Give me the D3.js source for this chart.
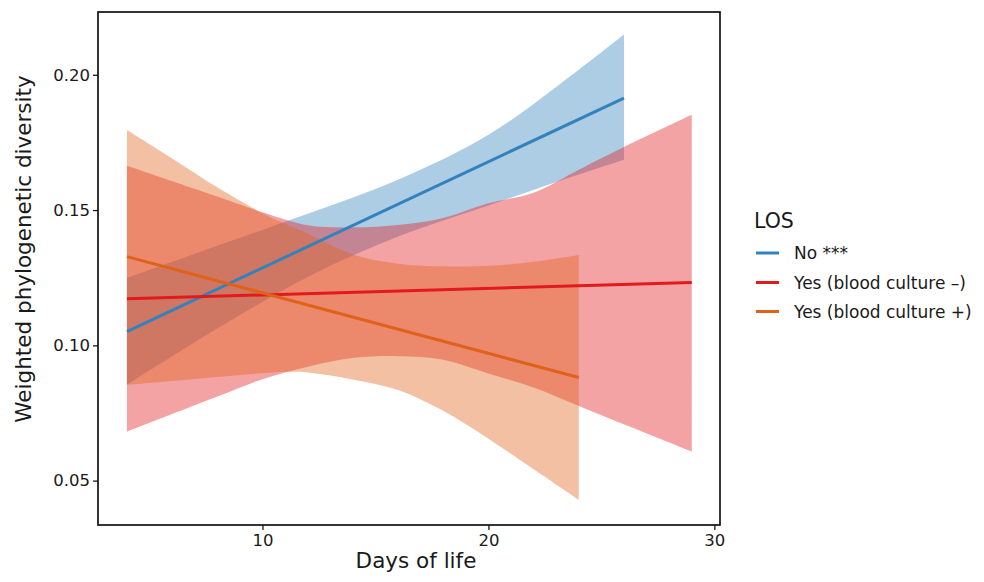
<!doctype html>
<html>
<head>
<script src="https://d3js.org/d3.v7.min.js"></script>
<style>
body { margin: 0; background: #fff; }
text { font-family: "DejaVu Sans", sans-serif; fill: #1a1a1a; }
</style>
</head>
<body>
<svg width="984" height="582"></svg>
<script>
// regression bands (days of life -> diversity)
var noDays   = [4, 8, 12, 16, 20, 24, 26];
var noLower  = [0.0854, 0.1062, 0.1253, 0.1402, 0.1517, 0.1631, 0.1686];
var noUpper  = [0.1249, 0.1368, 0.1486, 0.1612, 0.1778, 0.2019, 0.2149];
var noFit    = [0.1051, 0.1914];

var negDays  = [4, 8, 10, 12, 14, 16, 18, 20, 22, 24, 26, 29];
var negLower = [0.0681, 0.0811, 0.0875, 0.0921, 0.0953, 0.0960, 0.0947, 0.0896, 0.0844, 0.0776, 0.0708, 0.0607];
var negUpper = [0.1664, 0.1550, 0.1492, 0.1444, 0.1436, 0.1445, 0.1471, 0.1525, 0.1564, 0.1649, 0.1733, 0.1852];
var negFit   = [0.1172, 0.1232];

var posDays  = [4, 6, 8, 10, 11, 12, 14, 16, 18, 20, 22, 24];
var posLower = [0.0854, 0.0868, 0.0883, 0.0897, 0.0902, 0.0900, 0.0874, 0.0835, 0.0758, 0.0655, 0.0542, 0.0429];
var posUpper = [0.1796, 0.1691, 0.1584, 0.1488, 0.1449, 0.1412, 0.1336, 0.1302, 0.1292, 0.1294, 0.1309, 0.1334];
var posFit   = [0.1328, 0.0881];

var labels = ["No ***", "Yes (blood culture \u2013)", "Yes (blood culture +)"];
var colors = ["#3182bd", "#e31a1c", "#e0621a"];
var xTicks = [10, 20, 30];
var yTicks = [0.05, 0.10, 0.15, 0.20];

var series = [
  {days: noDays, lower: noLower, upper: noUpper, fit: noFit},
  {days: negDays, lower: negLower, upper: negUpper, fit: negFit},
  {days: posDays, lower: posLower, upper: posUpper, fit: posFit}
];

var svg = d3.select("svg");
var plotLeft = 98, plotRight = 720, plotTop = 12, plotBottom = 525;

var x = d3.scaleLinear().domain([2.72, 30.25]).range([plotLeft, plotRight]);
var y = d3.scaleLinear().domain([0.0336, 0.2232]).range([plotBottom, plotTop]);

var area = d3.area()
  .x(function(d) { return x(d.day); })
  .y0(function(d) { return y(d.lo); })
  .y1(function(d) { return y(d.hi); })
  .curve(d3.curveCatmullRom.alpha(0.5));

var line = d3.line()
  .x(function(d) { return x(d[0]); })
  .y(function(d) { return y(d[1]); });

// bands
series.forEach(function(s, i) {
  var pts = s.days.map(function(d, j) { return {day: d, lo: s.lower[j], hi: s.upper[j]}; });
  svg.append("path")
    .attr("d", area(pts))
    .attr("fill", colors[i])
    .attr("fill-opacity", 0.4);
});

// fitted lines
series.forEach(function(s, i) {
  var ends = [[s.days[0], s.fit[0]], [s.days[s.days.length - 1], s.fit[1]]];
  svg.append("path")
    .attr("d", line(ends))
    .attr("fill", "none")
    .attr("stroke", colors[i])
    .attr("stroke-width", 3);
});

// axes
var xAxis = svg.append("g")
  .attr("transform", "translate(0," + plotBottom + ")")
  .call(d3.axisBottom(x).tickValues(xTicks).tickSize(5).tickPadding(4));
var yAxis = svg.append("g")
  .attr("transform", "translate(" + plotLeft + ",0)")
  .call(d3.axisLeft(y).tickValues(yTicks).tickFormat(d3.format(".2f")).tickSize(5).tickPadding(3));

[xAxis, yAxis].forEach(function(g) {
  g.select(".domain").remove();
  g.selectAll(".tick line").attr("stroke", "#1a1a1a").attr("stroke-width", 1.3);
  g.selectAll(".tick text").style("font-size", "16.5px").attr("fill", "#1a1a1a");
});

svg.append("rect")
  .attr("x", plotLeft).attr("y", plotTop)
  .attr("width", plotRight - plotLeft).attr("height", plotBottom - plotTop)
  .attr("fill", "none")
  .attr("stroke", "#111")
  .attr("stroke-width", 1.7);

// axis titles
svg.append("text")
  .attr("x", 416).attr("y", 568)
  .attr("text-anchor", "middle")
  .style("font-size", "21.5px")
  .text("Days of life");

svg.append("text")
  .attr("transform", "translate(31,249)rotate(-90)")
  .attr("text-anchor", "middle")
  .style("font-size", "21.5px")
  .text("Weighted phylogenetic diversity");

// legend
svg.append("text")
  .attr("x", 754).attr("y", 228)
  .style("font-size", "20.5px")
  .text("LOS");

var legendY = [253, 282.5, 311.5];
labels.forEach(function(lab, i) {
  svg.append("line")
    .attr("x1", 756).attr("x2", 779)
    .attr("y1", legendY[i]).attr("y2", legendY[i])
    .attr("stroke", colors[i])
    .attr("stroke-width", 3);
  svg.append("text")
    .attr("x", 794).attr("y", legendY[i] + 6.3)
    .style("font-size", "17px")
    .text(lab);
});
</script>
</body>
</html>
